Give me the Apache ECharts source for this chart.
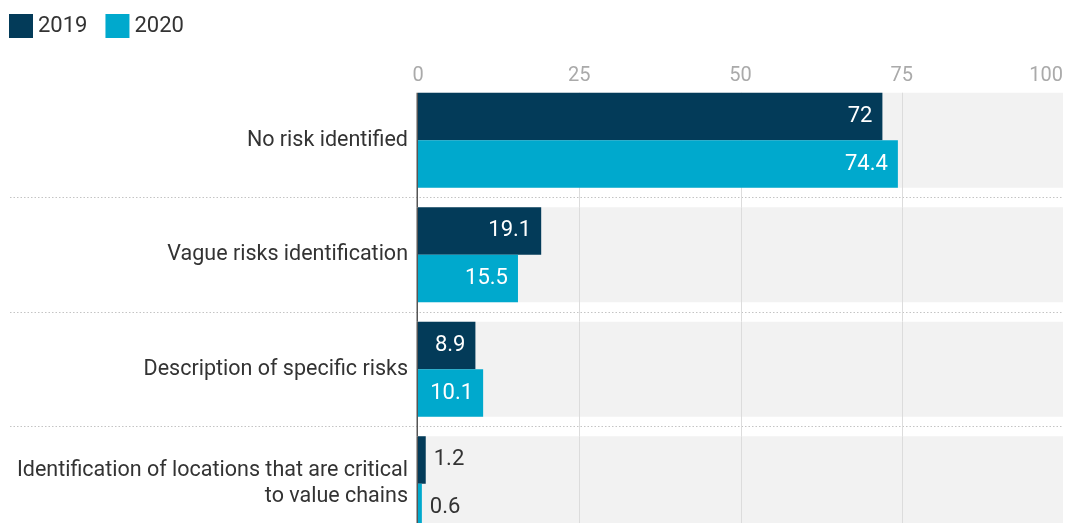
<!DOCTYPE html>
<html>
<head>
<meta charset="utf-8">
<script src="https://cdn.jsdelivr.net/npm/echarts@6/dist/echarts.min.js"></script>
<style>
  html, body { margin: 0; padding: 0; background: #fff; overflow: hidden; }
  #chart { width: 1067px; height: 523px; }
</style>
</head>
<body>
<div id="chart"></div>
<script>
// Risk identification categories, share of companies (%) in 2019 and 2020
const categories = [
  'No risk identified',
  'Vague risks identification',
  'Description of specific risks',
  'Identification of locations that are critical\nto value chains'
];
const values2019 = [72, 19.1, 8.9, 1.2];
const values2020 = [74.4, 15.5, 10.1, 0.6];
const seriesNames = ['2019', '2020'];
const xTicks = [0, 25, 50, 75, 100];

const FONT = 'Roboto';
const COLORS = ['#033b59', '#00a9cd'];
const CATEGORY_GAP = 0.17;

// values too small to hold their label inside the bar get it on the right
function labelFor(v) {
  if (v < 5) {
    return { position: 'right', distance: 8, color: '#333' };
  }
  return { position: 'insideRight', distance: 10, color: '#fff' };
}

function barSeries(name, values, color) {
  return {
    name: name,
    type: 'bar',
    xAxisIndex: 0,
    yAxisIndex: 0,
    z: 3,
    barGap: '0%',
    barCategoryGap: (CATEGORY_GAP * 100) + '%',
    itemStyle: { color: color },
    label: {
      show: true,
      fontFamily: FONT,
      fontSize: 22
    },
    data: values.map(v => ({ value: v, label: labelFor(v) }))
  };
}

// grey row bands, vertical grid lines and the zero line, one set per row
function renderRow(params, api) {
  const cat = api.value(1);
  const start = api.coord([xTicks[0], cat]);
  const end = api.coord([xTicks[xTicks.length - 1], cat]);
  const step = api.size([0, 1])[1];
  const bandH = step * (1 - CATEGORY_GAP);
  const top = start[1] - bandH / 2;
  const children = [{
    type: 'rect',
    shape: { x: start[0], y: top, width: end[0] - start[0], height: bandH },
    style: { fill: '#f2f2f2' }
  }];
  xTicks.slice(1, -1).forEach(t => {
    const x = Math.round(api.coord([t, cat])[0]) + 0.5;
    children.push({
      type: 'line',
      shape: { x1: x, y1: top, x2: x, y2: top + step },
      style: { stroke: '#dcdcdc', lineWidth: 1 }
    });
  });
  children.push({
    type: 'line',
    shape: { x1: start[0] - 0.75, y1: top, x2: start[0] - 0.75, y2: top + step },
    style: { stroke: '#555', lineWidth: 1.5 }
  });
  return { type: 'group', children: children };
}

const chart = echarts.init(document.getElementById('chart'), null, { renderer: 'canvas' });

chart.setOption({
  animation: false,
  backgroundColor: '#fff',
  textStyle: { fontFamily: FONT },
  color: COLORS,
  legend: {
    left: 9,
    top: 14,
    padding: 0,
    itemWidth: 24,
    itemHeight: 24,
    itemGap: 18,
    icon: 'rect',
    selectedMode: false,
    textStyle: { fontFamily: FONT, fontSize: 22, color: '#333' },
    data: seriesNames
  },
  grid: [
    { left: 418, right: 4, top: 83, height: 458, containLabel: false, outerBoundsMode: 'none' },
    { left: 10, right: 4, top: 83, height: 458, containLabel: false, outerBoundsMode: 'none' }
  ],
  xAxis: [
    {
      gridIndex: 0,
      type: 'value',
      position: 'top',
      min: xTicks[0],
      max: xTicks[xTicks.length - 1],
      interval: xTicks[1] - xTicks[0],
      axisLine: { show: false },
      axisTick: { show: false },
      splitLine: { show: false },
      axisLabel: {
        margin: -3,
        color: '#aaa',
        fontFamily: FONT,
        fontSize: 20,
        alignMaxLabel: 'right'
      }
    },
    { gridIndex: 1, type: 'value', show: false }
  ],
  yAxis: [
    {
      gridIndex: 0,
      type: 'category',
      inverse: true,
      data: categories,
      axisLine: { show: false },
      axisTick: { show: false },
      splitLine: { show: false },
      axisLabel: {
        margin: 10,
        color: '#333',
        fontFamily: FONT,
        fontSize: 21.5,
        lineHeight: 26,
        align: 'right'
      }
    },
    {
      gridIndex: 1,
      type: 'category',
      inverse: true,
      data: categories,
      axisLine: { show: false },
      axisTick: { show: false },
      axisLabel: { show: false },
      splitLine: {
        show: true,
        interval: (idx) => idx > 0,
        lineStyle: { type: [1.5, 2], color: '#c4c4c4', width: 1 }
      }
    }
  ],
  series: [
    {
      type: 'custom',
      xAxisIndex: 0,
      yAxisIndex: 0,
      z: 1,
      silent: true,
      encode: { x: 0, y: 1 },
      renderItem: renderRow,
      data: categories.map((c, i) => [0, i])
    },
    barSeries(seriesNames[0], values2019, COLORS[0]),
    barSeries(seriesNames[1], values2020, COLORS[1])
  ]
});
</script>
</body>
</html>
